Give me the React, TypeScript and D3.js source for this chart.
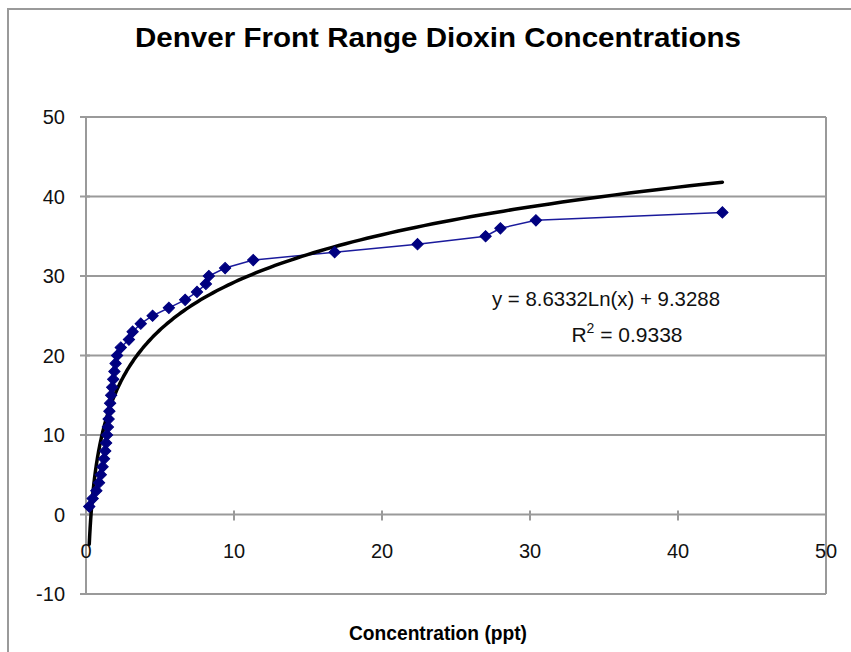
import React, { useEffect, useRef } from 'react';
import * as d3 from 'd3';

// sorted concentrations (ppt) and their rank
const concentration = [
  0.22, 0.45, 0.7, 0.88, 1.0, 1.12, 1.22, 1.3, 1.36, 1.42,
  1.48, 1.53, 1.58, 1.63, 1.7, 1.77, 1.84, 1.92, 2.0, 2.1,
  2.35, 2.9, 3.15, 3.7, 4.5, 5.6, 6.7, 7.5, 8.1, 8.3,
  9.4, 11.3, 16.8, 22.4, 27.0, 28.0, 30.4, 43.0,
];
const rank = d3.range(1, concentration.length + 1);

// log trendline reported on the chart
const slope = 8.6332;
const intercept = 9.3288;
const rSquared = 0.9338;

const xTicks = [0, 10, 20, 30, 40, 50];
const yTicks = [-10, 0, 10, 20, 30, 40, 50];

const W = 851;
const H = 652;

export default function App() {
  const ref = useRef<SVGSVGElement>(null);

  useEffect(() => {
    const svg = d3.select(ref.current);
    svg.selectAll('*').remove();

    const marginLeft = 86;
    const marginRight = 25;
    const marginTop = 117;
    const plotBottom = 594;

    const x = d3.scaleLinear().domain([0, 50]).range([marginLeft, W - marginRight]);
    const y = d3.scaleLinear().domain([-10, 50]).range([plotBottom, marginTop]);
    const grey = '#9a9a9a';
    const font = 'Arial, "Liberation Sans", sans-serif';

    // outer chart frame
    svg
      .append('path')
      .attr('d', `M8,${H + 5}V9H${W + 5}`)
      .attr('fill', 'none')
      .attr('stroke', grey)
      .attr('stroke-width', 2);

    // title
    svg
      .append('text')
      .attr('x', 438)
      .attr('y', 47)
      .attr('text-anchor', 'middle')
      .attr('font-family', font)
      .attr('font-weight', 'bold')
      .attr('font-size', 27)
      .attr('textLength', 606)
      .attr('lengthAdjust', 'spacingAndGlyphs')
      .text('Denver Front Range Dioxin Concentrations');

    // gridlines
    svg
      .append('g')
      .selectAll('line')
      .data(yTicks)
      .join('line')
      .attr('x1', x(0))
      .attr('x2', x(50))
      .attr('y1', (d) => y(d))
      .attr('y2', (d) => y(d))
      .attr('stroke', grey)
      .attr('stroke-width', 2);

    // right border of plot area
    svg
      .append('line')
      .attr('x1', x(50))
      .attr('x2', x(50))
      .attr('y1', y(50))
      .attr('y2', y(-10))
      .attr('stroke', grey)
      .attr('stroke-width', 2);

    // y axis
    const gy = svg.append('g');
    gy.append('line')
      .attr('x1', x(0))
      .attr('x2', x(0))
      .attr('y1', y(50))
      .attr('y2', y(-10))
      .attr('stroke', grey)
      .attr('stroke-width', 2);
    gy.selectAll('line.tick')
      .data(yTicks)
      .join('line')
      .attr('class', 'tick')
      .attr('x1', x(0) - 6)
      .attr('x2', x(0) + 4)
      .attr('y1', (d) => y(d))
      .attr('y2', (d) => y(d))
      .attr('stroke', grey)
      .attr('stroke-width', 2);
    gy.selectAll('text')
      .data(yTicks)
      .join('text')
      .attr('x', 65)
      .attr('y', (d) => y(d) + 7)
      .attr('text-anchor', 'end')
      .attr('font-family', font)
      .attr('font-size', 20)
      .attr('fill', '#111')
      .text((d) => d);

    // x axis crossing at 0
    const gx = svg.append('g');
    gx.selectAll('line')
      .data(xTicks)
      .join('line')
      .attr('x1', (d) => x(d))
      .attr('x2', (d) => x(d))
      .attr('y1', y(0) - 4)
      .attr('y2', y(0) + 6)
      .attr('stroke', grey)
      .attr('stroke-width', 2);
    gx.selectAll('text')
      .data(xTicks)
      .join('text')
      .attr('x', (d) => x(d))
      .attr('y', y(0) + 43)
      .attr('text-anchor', 'middle')
      .attr('font-family', font)
      .attr('font-size', 20)
      .attr('fill', '#111')
      .text((d) => d);

    svg
      .append('text')
      .attr('x', 438)
      .attr('y', 640)
      .attr('text-anchor', 'middle')
      .attr('font-family', font)
      .attr('font-weight', 'bold')
      .attr('font-size', 21)
      .attr('textLength', 178)
      .attr('lengthAdjust', 'spacingAndGlyphs')
      .text('Concentration (ppt)');

    // data line
    const pts = concentration.map((c, i) => [c, rank[i]] as [number, number]);
    svg
      .append('path')
      .datum(pts)
      .attr('fill', 'none')
      .attr('stroke', '#1a1a9c')
      .attr('stroke-width', 1.5)
      .attr('d', d3.line<[number, number]>().x((d) => x(d[0])).y((d) => y(d[1])));

    // trendline across the data range
    const [xMin, xMax] = d3.extent(concentration) as [number, number];
    const trendX = d3.range(0, 201).map((i) => xMin * Math.pow(xMax / xMin, i / 200));
    svg
      .append('path')
      .datum(trendX)
      .attr('fill', 'none')
      .attr('stroke', '#000')
      .attr('stroke-width', 3.5)
      .attr('stroke-linecap', 'round')
      .attr(
        'd',
        d3
          .line<number>()
          .x((d) => x(d))
          .y((d) => y(slope * Math.log(d) + intercept))
      );

    // markers
    svg
      .append('g')
      .selectAll('path')
      .data(pts)
      .join('path')
      .attr('d', d3.symbol(d3.symbolSquare, 64)())
      .attr('transform', (d) => `translate(${x(d[0])},${y(d[1])}) rotate(45)`)
      .attr('fill', '#000080')
      .attr('stroke', '#000080')
      .attr('stroke-width', 1);

    // equation label
    svg
      .append('text')
      .attr('x', 606)
      .attr('y', 306)
      .attr('font-family', font)
      .attr('font-size', 21)
      .attr('text-anchor', 'middle')
      .attr('fill', '#111')
      .attr('textLength', 228)
      .attr('lengthAdjust', 'spacingAndGlyphs')
      .text(`y = ${slope}Ln(x) + ${intercept}`);
    const r2 = svg
      .append('text')
      .attr('x', 627)
      .attr('y', 342)
      .attr('font-family', font)
      .attr('font-size', 21)
      .attr('text-anchor', 'middle')
      .attr('fill', '#111');
    r2.append('tspan').text('R');
    r2.append('tspan').attr('dy', -9).attr('font-size', 14).text('2');
    r2.append('tspan').attr('dy', 9).text(` = ${rSquared}`);
  }, []);

  return (
    <div style={{ position: 'absolute', left: 0, top: 0 }}>
      <svg ref={ref} width={W} height={H} style={{ display: 'block', background: '#fff' }} />
    </div>
  );
}
